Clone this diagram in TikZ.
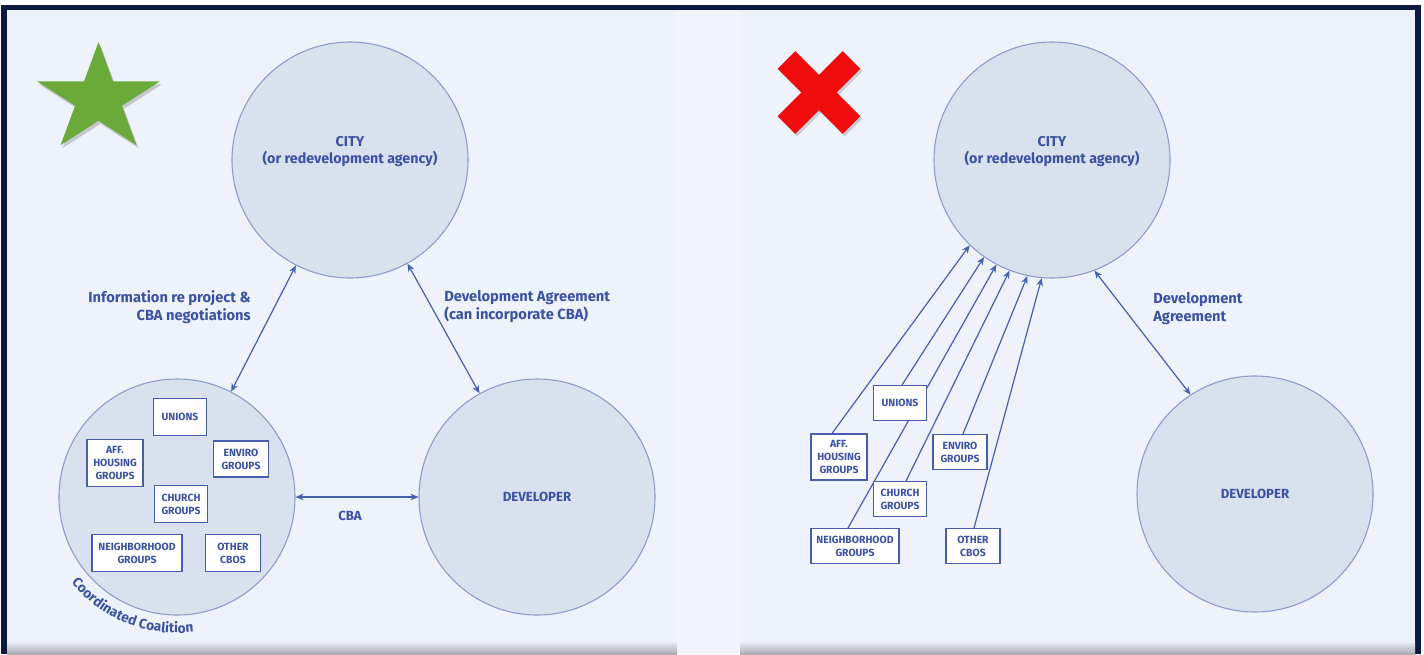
\documentclass[tikz,border=0pt]{standalone}
\usepackage{fontspec}
\setmainfont{Fira Sans}
\usetikzlibrary{arrows.meta,decorations.text}
\pgfdeclarelayer{background}
\pgfdeclarelayer{lines}
\pgfsetlayers{background,lines,main}
\definecolor{navy}{RGB}{12,26,66}
\definecolor{panel}{RGB}{238,242,250}
\definecolor{stripc}{RGB}{241,244,251}
\definecolor{shadowgray}{RGB}{170,172,180}
\definecolor{circfill}{RGB}{217,224,238}
\definecolor{circline}{RGB}{140,155,200}
\definecolor{lineblue}{RGB}{70,95,175}
\definecolor{txtblue}{RGB}{58,82,162}
\definecolor{boxline}{RGB}{72,94,172}
\definecolor{stargreen}{RGB}{106,170,58}
\definecolor{xred}{RGB}{240,12,12}
\begin{document}
\begin{tikzpicture}[x=0.75pt,y=-0.75pt,
  bigc/.style={circle, fill=circfill, draw=circline, line width=0.8pt,
    minimum size=236*0.75pt, inner sep=0pt, text=txtblue,
    font=\fontsize{9.9}{12.75}\selectfont\bfseries},
  lbl/.style={text=txtblue, inner sep=0pt,
    font=\fontsize{11}{13.5}\selectfont\bfseries},
  citytxt/.style={text=txtblue, inner sep=0pt, align=center,
    font=\fontsize{10.7}{12.75}\selectfont\bfseries},
  grpbox/.style={draw=boxline, fill=white, line width=0.8pt, align=center,
    inner sep=1pt, text=txtblue,
    font=\fontsize{7.8}{9.6}\selectfont\bfseries},
  both/.style={line width=0.9pt, draw=lineblue, {Stealth[length=6pt,width=5pt]}-{Stealth[length=6pt,width=5pt]}},
  one/.style={line width=0.9pt, draw=lineblue, -{Stealth[length=6pt,width=5pt]}}
]
\useasboundingbox (0,0) rectangle (1424,654);
\begin{pgfonlayer}{background}
  \fill[white] (0,0) rectangle (1424,654);
  \fill[navy] (1,5) rectangle (1421,654);
  \fill[panel] (7,10) rectangle (677,654);
  \fill[stripc] (677,10) rectangle (740,654);
  \fill[panel] (740,10) rectangle (1415,654);
  \shade[top color=panel, bottom color=shadowgray] (7,641) rectangle (677,654);
  \shade[top color=panel, bottom color=shadowgray] (740,641) rectangle (1415,654);
\end{pgfonlayer}

% star
\fill[black, opacity=0.18] ([shift={(2,3)}]98.5,42) -- ([shift={(2,3)}]113,81.4) -- ([shift={(2,3)}]159.8,81.4) -- ([shift={(2,3)}]121.9,105.7) -- ([shift={(2,3)}]136.4,145.1) -- ([shift={(2,3)}]98.5,120.8) -- ([shift={(2,3)}]60.6,145.1) -- ([shift={(2,3)}]75.1,105.7) -- ([shift={(2,3)}]37.2,81.4) -- ([shift={(2,3)}]84,81.4) -- cycle;
\fill[stargreen] (98.5,42) -- (113,81.4) -- (159.8,81.4) -- (121.9,105.7) -- (136.4,145.1) -- (98.5,120.8) -- (60.6,145.1) -- (75.1,105.7) -- (37.2,81.4) -- (84,81.4) -- cycle;

% red cross
\fill[black, opacity=0.15, rotate around={45:(821,95)}] (775,82.5) rectangle (867,107.5);
\fill[black, opacity=0.15, rotate around={-45:(821,95)}] (775,82.5) rectangle (867,107.5);
\fill[xred, rotate around={45:(819,92.5)}] (773,80) rectangle (865,105);
\fill[xred, rotate around={-45:(819,92.5)}] (773,80) rectangle (865,105);

% ---------- left panel ----------
\node[bigc] (city1) at (350,160) {};
\node[citytxt] (city1t) at (350,151.5) {CITY\\(or redevelopment agency)};
\node[bigc] (coal) at (177,497) {};
\node[bigc] (dev1) at (537,497) {DEVELOPER};

\node[grpbox, minimum width=53*0.75pt, minimum height=37*0.75pt] (u1) at (180,417) {UNIONS};
\node[grpbox, minimum width=56*0.75pt, minimum height=47*0.75pt] (a1) at (115,463) {AFF.\\HOUSING\\GROUPS};
\node[grpbox, minimum width=55*0.75pt, minimum height=36*0.75pt] (e1) at (241,459) {ENVIRO\\GROUPS};
\node[grpbox, minimum width=53*0.75pt, minimum height=37*0.75pt] (c1) at (181,504) {CHURCH\\GROUPS};
\node[grpbox, minimum width=90*0.75pt, minimum height=37*0.75pt] (n1) at (137,553) {NEIGHBORHOOD\\GROUPS};
\node[grpbox, minimum width=55*0.75pt, minimum height=37*0.75pt] (o1) at (233,553) {OTHER\\CBOS};

\path[decorate, decoration={text along path, text align=left, text color=txtblue,
  text={|\fontsize{10.3}{11}\selectfont\bfseries|Coordinated Coalition}}]
  (coal.center) ++(141:136) arc[start angle=141, end angle=50, radius=136];

\draw[both] (coal) -- (city1);
\draw[both] (city1) -- (dev1);
\draw[both] (coal.east) -- (dev1.west);

\node[lbl, anchor=east, align=right] (infoL) at (251,307) {Information re project \&\\CBA negotiations};
\node[lbl, anchor=west, align=left] (devL) at (444,307) {Development Agreement\\(can incorporate CBA)};
\node[bigc, draw=none, fill=none, minimum size=0pt] (cbaL) at (350,516) {CBA};

% ---------- right panel ----------
\node[bigc] (city2) at (1052,160) {};
\node[citytxt] (city2t) at (1052,151.5) {CITY\\(or redevelopment agency)};
\node[bigc] (dev2) at (1255,494) {DEVELOPER};
\draw[both] (city2.-69) -- (dev2.123);
\node[lbl, anchor=west, align=left] (dev2L) at (1153,309) {Development\\Agreement};

\node[grpbox, minimum width=53*0.75pt, minimum height=35*0.75pt] (u2) at (900,403) {UNIONS};
\node[grpbox, minimum width=56*0.75pt, minimum height=46*0.75pt] (a2) at (839,457) {AFF.\\HOUSING\\GROUPS};
\node[grpbox, minimum width=54*0.75pt, minimum height=35*0.75pt] (e2) at (960,452) {ENVIRO\\GROUPS};
\node[grpbox, minimum width=53*0.75pt, minimum height=35*0.75pt] (c2) at (900,499) {CHURCH\\GROUPS};
\node[grpbox, minimum width=88*0.75pt, minimum height=35*0.75pt] (n2) at (855,546) {NEIGHBORHOOD\\GROUPS};
\node[grpbox, minimum width=54*0.75pt, minimum height=35*0.75pt] (o2) at (973,546) {OTHER\\CBOS};

\begin{pgfonlayer}{lines}
  \draw[one] ([xshift=-5.25pt]a2.north) -- (city2.226);
  \draw[one] ([xshift=1.5pt]u2.north) -- (city2.235);
  \draw[one] ([xshift=-5.25pt]n2.north) -- (city2.242);
  \draw[one] ([xshift=4.5pt]c2.north) -- (city2.249);
  \draw[one] ([xshift=2.25pt]e2.north) -- (city2.258);
  \draw[one] ([xshift=0.75pt]o2.north) -- (city2.265);
\end{pgfonlayer}
\end{tikzpicture}
\end{document}
